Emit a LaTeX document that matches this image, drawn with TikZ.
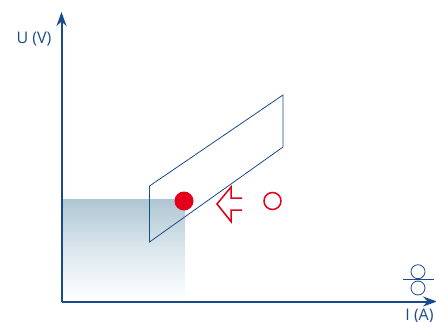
\documentclass[tikz,border=0pt]{standalone}
\usepackage{fontspec}
\setmainfont{Open Sans}
\usetikzlibrary{arrows.meta}
\definecolor{axisblue}{HTML}{1B4A8C}
\definecolor{markred}{HTML}{E2001A}
\definecolor{shadeblue}{HTML}{AEC6D2}
\definecolor{shademid}{HTML}{DCE8EE}
\tikzset{
  axisline/.style={draw=axisblue,line width=2pt,-{Stealth[length=14pt,width=10pt]}},
  thinline/.style={draw=axisblue,line width=0.8pt},
  lbl/.style={text=axisblue,font=\fontsize{16}{18}\selectfont,inner sep=0pt},
  redline/.style={draw=markred,line width=1.5pt},
}
\begin{document}
\begin{tikzpicture}[x=1pt,y=-1pt]
\useasboundingbox (0,0) rectangle (436,321);
\clip (0,0) rectangle (436,321);
\shade[top color=shadeblue,bottom color=white,middle color=shademid] (62,199) rectangle (185,301);
\coordinate (origin) at (61.5,301.5);
\coordinate (ytip) at (61.5,12);
\coordinate (xtip) at (437,301.5);
\draw[axisline] (origin) -- (ytip);
\draw[axisline] (origin) -- (xtip);
\draw[thinline] (149.5,186) -- (283,95) -- (283,147) -- (149.5,242) -- cycle;
\node[circle,fill=markred,minimum size=19pt,inner sep=0pt] (solid) at (184,201) {};
\node[circle,redline,minimum size=17pt,inner sep=0pt] (open) at (272.5,201) {};
\draw[redline,miter limit=10] (242,198) -- (231,198) -- (231,187) -- (217,204) -- (231,221.5) -- (231,210) -- (242,210);
\node[circle,thinline,minimum size=14pt,inner sep=0pt] (rolla) at (418,271.7) {};
\node[circle,thinline,minimum size=14pt,inner sep=0pt] (rollb) at (418,288) {};
\draw[thinline] (403,279.5) -- (433.5,279.5);
\node[lbl,anchor=base] (ulabel) at (34,44) {U (V)};
\node[lbl,anchor=base] (ilabel) at (419.5,320.5) {I (A)};
\end{tikzpicture}
\end{document}
